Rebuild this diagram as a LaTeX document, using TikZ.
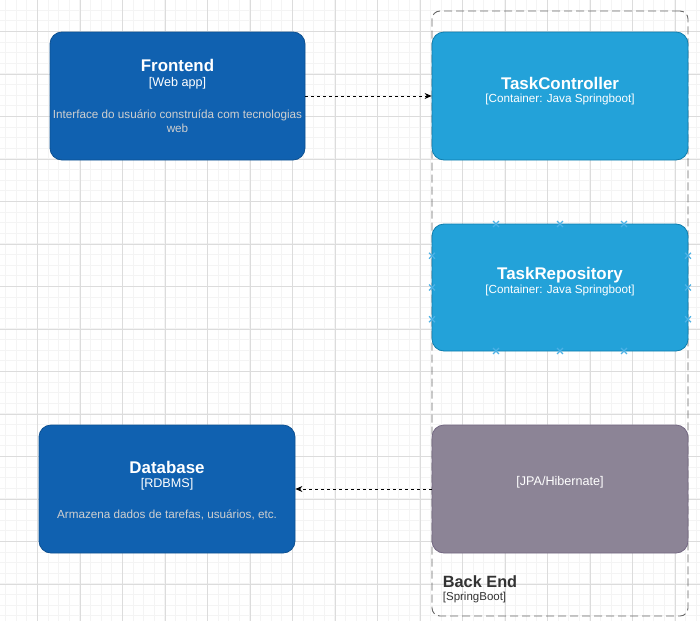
\documentclass[tikz,border=0pt]{standalone}
\usepackage{fontspec}
\setmainfont{Liberation Sans}
\usepackage{tikz}
\usetikzlibrary{arrows, arrows.meta, positioning, shapes.misc}

\definecolor{sysblue}{HTML}{1061B0}
\definecolor{sysline}{HTML}{0D5091}
\definecolor{contblue}{HTML}{23A2D9}
\definecolor{contline}{HTML}{0E7DAD}
\definecolor{extgray}{HTML}{8C8496}
\definecolor{extline}{HTML}{736782}
\definecolor{desctext}{HTML}{CFCFCF}
\definecolor{darktext}{HTML}{333333}
\definecolor{gridminor}{HTML}{F4F4F4}
\definecolor{gridmajor}{HTML}{DCDCDC}
\definecolor{hoverblue}{HTML}{4DB2E6}

\begin{document}
\begin{tikzpicture}[x=1pt,y=-1pt]

\tikzset{box/.style = {shape=rectangle,draw,rounded corners=12pt,line width=0.8pt,inner sep=0pt}}
\tikzset{sysbox/.style = {box,fill=sysblue,draw=sysline,minimum width=256pt,minimum height=128pt}}
\tikzset{contbox/.style = {box,fill=contblue,draw=contline,minimum width=256pt,minimum height=128pt}}
\tikzset{extbox/.style = {box,fill=extgray,draw=extline,minimum width=256pt,minimum height=128pt}}
\tikzset{boundary/.style = {shape=rectangle,draw=black!60,dash pattern=on 8pt off 4pt,rounded corners=8pt,line width=0.9pt,minimum width=256pt,minimum height=605pt,inner sep=0pt}}
\tikzset{titletext/.style = {text=white,font=\fontsize{16.9}{20}\selectfont\bfseries,inner sep=0pt}}
\tikzset{subtext/.style = {text=white,font=\fontsize{12.6}{15}\selectfont,inner sep=0pt}}
\tikzset{ctext/.style = {text=white,font=\fontsize{11.7}{14}\selectfont,inner sep=0pt}}
\tikzset{desc/.style = {text=desctext,font=\fontsize{11.7}{14}\selectfont,align=center,inner sep=0pt}}
\tikzset{dep/.style = {->,>={Stealth[length=7pt,width=6pt]},dash pattern=on 3pt off 3pt,line width=0.8pt}}
\tikzset{hoverx/.style = {shape=cross out,draw=hoverblue,line width=1.3pt,minimum size=4.5pt,inner sep=0pt}}

\useasboundingbox (0,0) rectangle (700,621);
\fill[white] (0,0) rectangle (700,621);

% grid
\foreach \i in {0,...,65} \draw[gridminor,line width=1.2pt] ({5.625+10.625*\i},0) -- ({5.625+10.625*\i},621);
\foreach \i in {0,...,57} \draw[gridminor,line width=1.2pt] (0,{10.25+10.625*\i}) -- (700,{10.25+10.625*\i});
\foreach \i in {0,...,15} \draw[gridmajor,line width=0.8pt] ({37.5+42.5*\i},0) -- ({37.5+42.5*\i},621);
\foreach \i in {0,...,14} \draw[gridmajor,line width=0.8pt] (0,{31.5+42.5*\i}) -- (700,{31.5+42.5*\i});

% boundary
\node[boundary] (backend) at (560,313.5) {};
\node[anchor=west,text=darktext,font=\fontsize{16.3}{19}\selectfont\bfseries,inner sep=0pt] (backend-t) at (442.7,582) {Back End};
\node[anchor=west,text=darktext,font=\fontsize{11.5}{14}\selectfont,inner sep=0pt] (backend-s) at (442.7,597.7) {[SpringBoot]};

% vertices
\node[sysbox,minimum width=255pt] (frontend) at (177.5,96) {};
\node[contbox] (ctrl) at (560,96) {};
\node[contbox,minimum height=127pt] (repo) at (560,287.5) {};
\node[sysbox] (db) at (167,489) {};
\node[extbox] (jpa) at (560,489) {};

% texts
\node[titletext] (frontend-t) at (177.5,65.2) {Frontend};
\node[subtext] (frontend-s) at (177.5,83.3) {[Web app]};
\node[desc] (frontend-d) at (177.5,121.5) {Interface do usuário construída com tecnologias\\web};
\node[titletext] (ctrl-t) at (560,83.3) {TaskController};
\node[ctext] (ctrl-s) at (560,99.2) {[Container: Java Springboot]};
\node[titletext] (repo-t) at (560,275.5) {TaskRepository};
\node[ctext] (repo-s) at (560,290.5) {[Container: Java Springboot]};
\node[titletext] (db-t) at (167,467) {Database};
\node[subtext] (db-s) at (167,484.6) {[RDBMS]};
\node[desc] (db-d) at (167,514.6) {Armazena dados de tarefas, usuários, etc.};
\node[subtext] (jpa-t) at (560,482.2) {[JPA/Hibernate]};

%edges
\path[dep] (frontend) edge (ctrl);
\path[dep] (jpa) edge (db);

% connection marks
\foreach \x in {496,560,624} {
  \node[hoverx] (top\x) at (\x,224) {};
  \node[hoverx] (bot\x) at (\x,351) {};
}
\foreach[count=\k] \y in {255.75,287.5,319.25} {
  \node[hoverx] (left\k) at (432,\y) {};
  \node[hoverx] (right\k) at (688,\y) {};
}
\end{tikzpicture}
\end{document}
